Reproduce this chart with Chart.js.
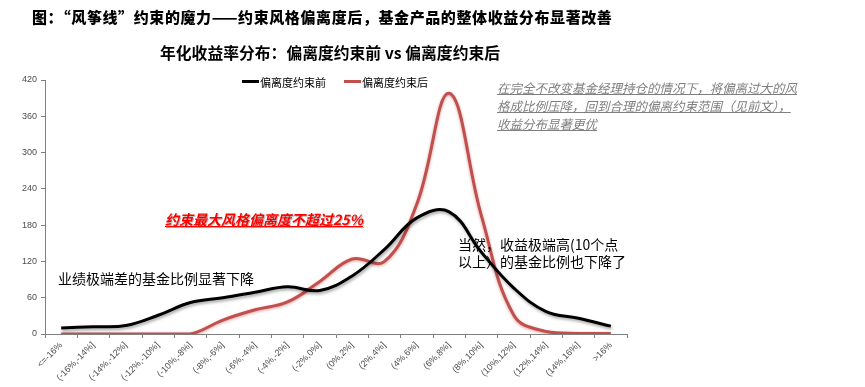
<!DOCTYPE html>
<html>
<head>
<meta charset="utf-8">
<script src="https://cdn.jsdelivr.net/npm/chart.js@4"></script>
<style>
  html, body { margin: 0; padding: 0; background: #fff; }
  body { width: 865px; height: 387px; position: relative; overflow: hidden;
         font-family: "Noto Sans CJK SC", "Liberation Sans", sans-serif; }
  #chartBox { position: absolute; left: 0; top: 0; width: 865px; height: 387px; }
  .txt { position: absolute; white-space: nowrap; }
  #mainTitle { left: 32px; top: 6px; font-size: 15px; font-weight: 900; color: #000; letter-spacing: 0.6px; }
  #subTitle { left: 160px; top: 41px; font-size: 15.8px; font-weight: 700; color: #000; }
  #legend { left: 242px; top: 70px; font-size: 11px; color: #000; }
  #legend span.item { display: inline-flex; align-items: center; margin-right: 18px; }
  #legend i { display: inline-block; width: 17px; height: 3px; margin-right: 1px; }
  #note { left: 497px; top: 79px; font-size: 12.5px; line-height: 18px; color: #7f7f7f;
          font-style: italic; text-decoration: underline; }
  #redNote { left: 165px; top: 209px; font-size: 14px; font-weight: 700; font-style: italic;
             color: #ff0000; text-decoration: underline; text-shadow: 1px 1px 1px rgba(0,0,0,0.3); }
  #leftNote { left: 58px; top: 268px; font-size: 14px; color: #000; }
  #rightNote { left: 458px; top: 236px; font-size: 14px; line-height: 17px; color: #000; }
</style>
</head>
<body>
<div id="chartBox"><canvas id="distChart" width="865" height="387"></canvas></div>

<div class="txt" id="mainTitle">图：“风筝线”约束的魔力——约束风格偏离度后，基金产品的整体收益分布显著改善</div>
<div class="txt" id="subTitle">年化收益率分布：偏离度约束前 vs 偏离度约束后</div>
<div class="txt" id="legend"></div>
<div class="txt" id="note">在完全不改变基金经理持仓的情况下，将偏离过大的风<br>格成比例压降，回到合理的偏离约束范围（见前文），<br>收益分布显著更优</div>
<div class="txt" id="redNote">约束最大风格偏离度不超过25%</div>
<div class="txt" id="leftNote">业绩极端差的基金比例显著下降</div>
<div class="txt" id="rightNote">当然，收益极端高(10个点<br>以上）的基金比例也下降了</div>

<script>
// return buckets (annualised)
const buckets = ['<=-16%', '(-16%,-14%]', '(-14%,-12%]', '(-12%,-10%]', '(-10%,-8%]', '(-8%,-6%]',
    '(-6%,-4%]', '(-4%,-2%]', '(-2%,0%]', '(0%,2%]', '(2%,4%]', '(4%,6%]', '(6%,8%]',
    '(8%,10%]', '(10%,12%]', '(12%,14%]', '(14%,16%]', '>16%'];

// number of funds per bucket
const beforeConstraint = [10, 12, 14, 31, 52, 60, 69, 78, 72, 96, 140, 192, 202, 135, 76, 37, 26, 13];
const afterConstraint = [0, 0, 0, 0, 0, 23, 40, 53, 87, 124, 120, 215, 398, 195, 31, 4, 1, 1];

const seriesNames = ['偏离度约束前', '偏离度约束后'];
const seriesColors = ['#000000', '#c0504d'];
const yTicks = [0, 60, 120, 180, 240, 300, 360, 420];

document.addEventListener('DOMContentLoaded', function() {
    buildLegend();
    initDistChart();
});

function buildLegend() {
    const box = document.getElementById('legend');
    seriesNames.forEach(function(name, i) {
        const item = document.createElement('span');
        item.className = 'item';
        item.innerHTML = '<i style="background:' + seriesColors[i] + '"></i>' + name;
        box.appendChild(item);
    });
}

// soft shadow under each line, like the office chart
const lineShadow = {
    id: 'lineShadow',
    beforeDatasetDraw(chart, args) {
        const ctx = chart.ctx;
        ctx.save();
        if (args.index === 1) {
            ctx.shadowColor = 'rgba(192,80,77,0.55)';
            ctx.shadowBlur = 3;
            ctx.shadowOffsetX = 0;
            ctx.shadowOffsetY = 1;
        } else {
            ctx.shadowColor = 'rgba(0,0,0,0.35)';
            ctx.shadowBlur = 3;
            ctx.shadowOffsetX = 1;
            ctx.shadowOffsetY = 2;
        }
    },
    afterDatasetDraw(chart) {
        chart.ctx.restore();
    }
};

function initDistChart() {
    const ctx = document.getElementById('distChart').getContext('2d');
    const tickFont = { family: '"Liberation Sans", "Noto Sans CJK SC", sans-serif', size: 9 };

    new Chart(ctx, {
        type: 'line',
        data: {
            labels: buckets,
            datasets: [
                {
                    label: seriesNames[0],
                    data: beforeConstraint,
                    borderColor: seriesColors[0],
                    borderWidth: 3,
                    pointRadius: 0,
                    fill: false,
                    tension: 0.4
                },
                {
                    label: seriesNames[1],
                    data: afterConstraint,
                    borderColor: seriesColors[1],
                    borderWidth: 3,
                    pointRadius: 0,
                    fill: false,
                    tension: 0.4
                }
            ]
        },
        options: {
            responsive: false,
            animation: false,
            layout: {
                padding: { left: 0, top: 80, right: 238, bottom: 0 }
            },
            scales: {
                x: {
                    offset: true,
                    grid: {
                        offset: true,
                        drawOnChartArea: false,
                        drawTicks: true,
                        tickLength: 4,
                        color: '#808080'
                    },
                    border: { color: '#808080', width: 1 },
                    ticks: {
                        font: tickFont,
                        color: '#4d4d4d',
                        minRotation: 45,
                        maxRotation: 45,
                        autoSkip: false,
                        padding: 2
                    },
                    afterFit: function(scale) { scale.height = 53; }
                },
                y: {
                    min: 0,
                    max: 420,
                    grid: {
                        drawOnChartArea: false,
                        drawTicks: true,
                        tickLength: 4,
                        color: '#808080'
                    },
                    border: { color: '#808080', width: 1 },
                    afterBuildTicks: function(scale) {
                        scale.ticks = yTicks.map(function(v) { return { value: v }; });
                    },
                    ticks: {
                        font: tickFont,
                        color: '#4d4d4d',
                        padding: 4
                    },
                    afterFit: function(scale) { scale.width = 45; }
                }
            },
            plugins: {
                legend: { display: false },
                tooltip: { enabled: false }
            }
        },
        plugins: [lineShadow]
    });
}
</script>
</body>
</html>
